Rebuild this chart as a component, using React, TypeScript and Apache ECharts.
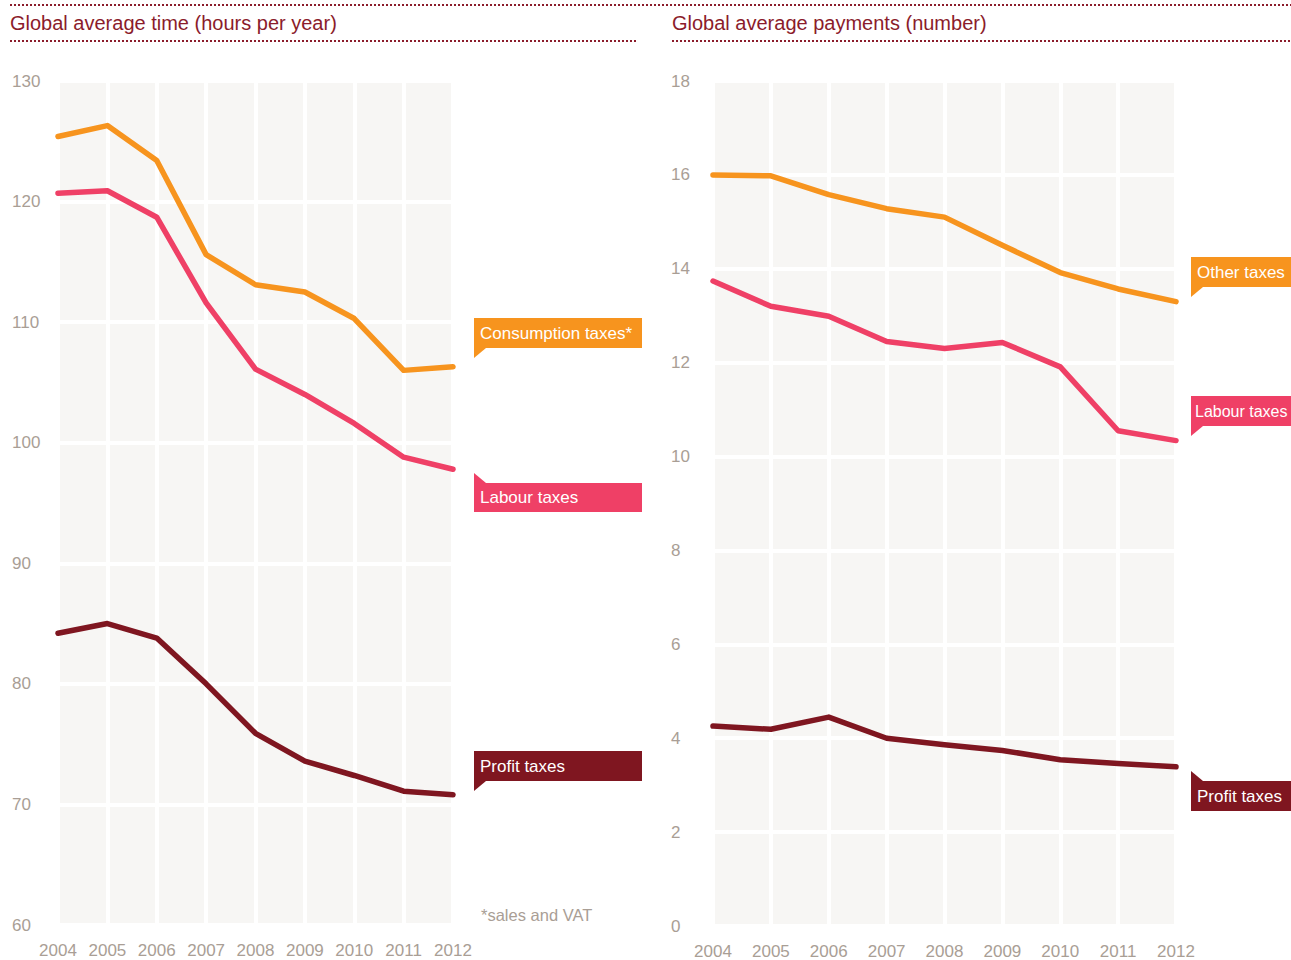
import React, { useEffect, useRef } from "react";
import * as echarts from "echarts";

const years = ["2004", "2005", "2006", "2007", "2008", "2009", "2010", "2011", "2012"];

const timeConsumption = [125.4, 126.3, 123.4, 115.6, 113.1, 112.5, 110.3, 106.0, 106.3];
const timeLabour = [120.7, 120.9, 118.7, 111.6, 106.1, 104.0, 101.6, 98.8, 97.8];
const timeProfit = [84.2, 85.0, 83.8, 80.0, 75.9, 73.6, 72.4, 71.1, 70.8];

const payOther = [16.0, 15.98, 15.58, 15.28, 15.1, 14.5, 13.92, 13.57, 13.3];
const payLabour = [13.74, 13.2, 12.99, 12.45, 12.3, 12.43, 11.91, 10.55, 10.34];
const payProfit = [4.26, 4.19, 4.45, 4.0, 3.86, 3.74, 3.54, 3.46, 3.39];

const leftTitle = "Global average time (hours per year)";
const rightTitle = "Global average payments (number)";
const footnote = "*sales and VAT";

const ORANGE = "#f7941e";
const PINK = "#ef4066";
const DARK = "#7f1620";
const TITLE = "#8b1c2b";
const AXIS = "#a99e95";
const BG = "#f7f6f4";
const FONT = "'Liberation Sans', Arial, Helvetica, sans-serif";

function callout(
  x: number,
  top: number,
  w: number,
  h: number,
  color: string,
  text: string,
  pointerDown: boolean,
  fontSize = 17,
  textPad = 6
) {
  const pts = pointerDown
    ? [[x, top + h], [x + 12, top + h], [x, top + h + 10]]
    : [[x, top], [x + 12, top], [x, top - 10]];
  return [
    { type: "rect", shape: { x, y: top, width: w, height: h }, style: { fill: color } },
    { type: "polygon", shape: { points: pts }, style: { fill: color } },
    {
      type: "text",
      x: x + textPad,
      y: top + h / 2,
      style: { text, fill: "#ffffff", font: `${fontSize}px ${FONT}`, textVerticalAlign: "middle", textAlign: "left" },
    },
  ];
}

export default function App() {
  const ref = useRef<HTMLDivElement>(null);
  useEffect(() => {
    document.body.style.margin = "0";
    const chart = echarts.init(ref.current!, undefined, { renderer: "svg" });
    const xBase = (gridIndex: number) => ({
      type: "category",
      gridIndex,
      data: years,
      boundaryGap: false,
      axisLine: { show: false },
      axisTick: { show: false },
      axisLabel: { color: AXIS, fontSize: 17, fontFamily: FONT, margin: 17, interval: 0 },
      splitLine: { show: true, interval: 0, lineStyle: { color: "#ffffff", width: 4 } },
    });
    const yBase = (gridIndex: number, min: number, max: number, interval: number, margin: number) => ({
      type: "value",
      gridIndex,
      min,
      max,
      interval,
      axisLine: { show: false },
      axisTick: { show: false },
      axisLabel: { color: AXIS, fontSize: 17, fontFamily: FONT, margin, align: "left" },
      splitLine: { show: true, lineStyle: { color: "#ffffff", width: 4 } },
    });
    const line = (name: string, data: number[], color: string, idx: number) => ({
      type: "line",
      name,
      data,
      xAxisIndex: idx,
      yAxisIndex: idx,
      symbol: "none",
      smooth: false,
      lineStyle: { color, width: 5.5, cap: "round", join: "round" },
      itemStyle: { color },
      z: 5,
    });
    const dotted = (x1: number, x2: number, y: number) => ({
      type: "line",
      shape: { x1, y1: y, x2, y2: y },
      style: { stroke: TITLE, lineWidth: 2, lineDash: [2, 2] },
    });
    chart.setOption({
      animation: false,
      backgroundColor: "#ffffff",
      grid: [
        { left: 58, top: 81, width: 395, height: 844, show: true, backgroundColor: BG, borderWidth: 0 },
        { left: 713, top: 81, width: 463, height: 846, show: true, backgroundColor: BG, borderWidth: 0 },
      ],
      xAxis: [xBase(0), xBase(1)],
      yAxis: [yBase(0, 60, 130, 10, 46), yBase(1, 0, 18, 2, 42)],
      series: [
        line("Consumption taxes*", timeConsumption, ORANGE, 0),
        line("Labour taxes", timeLabour, PINK, 0),
        line("Profit taxes", timeProfit, DARK, 0),
        line("Other taxes", payOther, ORANGE, 1),
        line("Labour taxes", payLabour, PINK, 1),
        line("Profit taxes", payProfit, DARK, 1),
      ],
      graphic: [
        dotted(10, 1291, 5),
        dotted(10, 637, 41),
        dotted(672, 1291, 41),
        {
          type: "text",
          x: 10,
          y: 23,
          style: { text: leftTitle, fill: TITLE, font: `20px ${FONT}`, textVerticalAlign: "middle" },
        },
        {
          type: "text",
          x: 672,
          y: 23,
          style: { text: rightTitle, fill: TITLE, font: `20px ${FONT}`, textVerticalAlign: "middle" },
        },
        ...callout(474, 318, 168, 30, ORANGE, "Consumption taxes*", true),
        ...callout(474, 483, 168, 29, PINK, "Labour taxes", false),
        ...callout(474, 751, 168, 30, DARK, "Profit taxes", true),
        ...callout(1191, 257, 110, 30, ORANGE, "Other taxes", true, 17, 6),
        ...callout(1191, 396, 110, 30, PINK, "Labour taxes", true, 16, 4),
        ...callout(1191, 781, 110, 30, DARK, "Profit taxes", false, 17, 6),
        {
          type: "text",
          x: 481,
          y: 915,
          style: { text: footnote, fill: AXIS, font: `16.5px ${FONT}`, textVerticalAlign: "middle" },
        },
      ],
    });
    return () => chart.dispose();
  }, []);
  return <div ref={ref} style={{ width: 1291, height: 960 }} />;
}
